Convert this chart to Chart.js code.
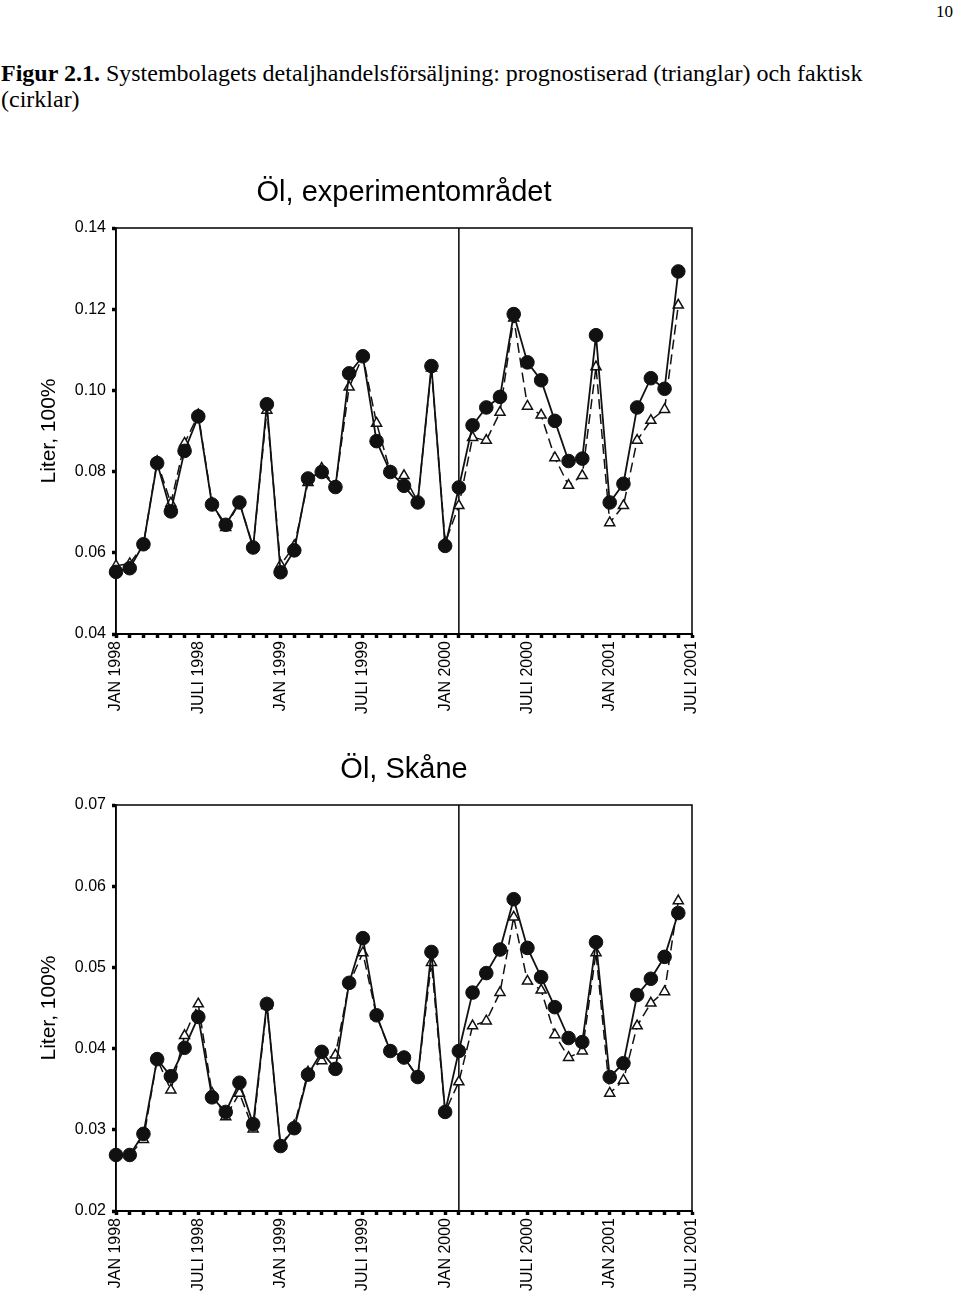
<!DOCTYPE html>
<html>
<head>
<meta charset="utf-8">
<script src="https://cdn.jsdelivr.net/npm/chart.js@4.4.1/dist/chart.umd.min.js"></script>
<style>
  body { margin: 0; background: #fff; }
  #page { position: relative; width: 960px; height: 1293px; overflow: hidden; }
  .pagenr { position: absolute; right: 7px; top: 2px; font: 17px "Liberation Serif", "Times New Roman", serif; }
  .caption { position: absolute; left: 1px; top: 60px; font: 24px/26px "Liberation Serif", "Times New Roman", serif; color: #000; }
  canvas { position: absolute; left: 0; }
</style>
</head>
<body>
<div id="page">
  <div class="pagenr">10</div>
  <div class="caption"><b>Figur 2.1.</b> Systembolagets detaljhandelsförsäljning: prognostiserad (trianglar) och faktisk<br>(cirklar)</div>
  <canvas id="chartExp" width="808" height="556" style="top:160px"></canvas>
  <canvas id="chartSkane" width="808" height="556" style="top:737px"></canvas>
</div>
<script>
// x axis: one slot per month, a label every sixth month
const tickLabels = ['JAN 1998', 'JULI 1998', 'JAN 1999', 'JULI 1999', 'JAN 2000', 'JULI 2000', 'JAN 2001', 'JULI 2001'];
const monthsPerTick = 6;
const forecastStart = 25; // Feb 2000, the vertical divider

// Öl, experimentområdet
const actualExp = [0.0553, 0.0562, 0.0621, 0.0821, 0.0702, 0.0851, 0.0936, 0.0719, 0.0669, 0.0724,
  0.0613, 0.0966, 0.0552, 0.0606, 0.0783, 0.0799, 0.0762, 0.1042, 0.1084, 0.0875,
  0.0799, 0.0765, 0.0724, 0.1060, 0.0617, 0.0761, 0.0914, 0.0958, 0.0984, 0.1188,
  0.1069, 0.1025, 0.0925, 0.0826, 0.0832, 0.1136, 0.0724, 0.0770, 0.0958, 0.1030,
  0.1004, 0.1293];
const forecastExp = [0.0568, 0.0573, 0.0620, 0.0825, 0.0722, 0.0870, 0.0940, 0.0722, 0.0662, 0.0724,
  0.0615, 0.0951, 0.0570, 0.0617, 0.0773, 0.0808, 0.0763, 0.1008, 0.1084, 0.0919,
  0.0800, 0.0790, 0.0726, 0.1055, 0.0625, 0.0716, 0.0884, 0.0877, 0.0946, 0.1178,
  0.0961, 0.0939, 0.0834, 0.0766, 0.0790, 0.1058, 0.0674, 0.0716, 0.0877, 0.0926,
  0.0953, 0.1210];
const yTicksExp = [0.04, 0.06, 0.08, 0.10, 0.12, 0.14];

// Öl, Skåne
const actualSkane = [0.0269, 0.0269, 0.0295, 0.0387, 0.0366, 0.0401, 0.0439, 0.0340, 0.0322, 0.0358,
  0.0307, 0.0455, 0.0280, 0.0302, 0.0368, 0.0396, 0.0375, 0.0481, 0.0536, 0.0441,
  0.0397, 0.0389, 0.0365, 0.0519, 0.0322, 0.0397, 0.0469, 0.0493, 0.0522, 0.0584,
  0.0524, 0.0488, 0.0451, 0.0413, 0.0408, 0.0531, 0.0365, 0.0382, 0.0466, 0.0486,
  0.0513, 0.0567];
const forecastSkane = [0.0269, 0.0269, 0.0288, 0.0387, 0.0349, 0.0416, 0.0455, 0.0345, 0.0316, 0.0345,
  0.0301, 0.0453, 0.0280, 0.0305, 0.0371, 0.0385, 0.0392, 0.0480, 0.0518, 0.0440,
  0.0397, 0.0389, 0.0365, 0.0506, 0.0322, 0.0359, 0.0428, 0.0434, 0.0469, 0.0562,
  0.0483, 0.0472, 0.0417, 0.0389, 0.0397, 0.0518, 0.0345, 0.0361, 0.0428, 0.0456,
  0.0470, 0.0582];
const yTicksSkane = [0.02, 0.03, 0.04, 0.05, 0.06, 0.07];

const categories = [];
for (let i = 0; i <= (tickLabels.length - 1) * monthsPerTick; i++) {
    categories.push(i % monthsPerTick === 0 ? tickLabels[i / monthsPerTick] : '');
}

const sans = 'Arial, "Liberation Sans", sans-serif';

// box round the plot area plus the line where the forecast period starts
const framePlugin = {
    id: 'frame',
    beforeDatasetsDraw(chart, args, opts) {
        const { ctx, chartArea: a, scales: { x } } = chart;
        ctx.save();
        ctx.strokeStyle = '#000';
        ctx.lineWidth = 1.5;
        ctx.strokeRect(a.left, a.top, a.right - a.left, a.bottom - a.top);
        const xp = x.getPixelForValue(opts.divider);
        ctx.beginPath();
        ctx.moveTo(xp, a.top);
        ctx.lineTo(xp, a.bottom);
        ctx.stroke();
        ctx.restore();
    }
};

function makeChart(id, title, actual, forecast, yTicks) {
    const ctx = document.getElementById(id).getContext('2d');
    return new Chart(ctx, {
        type: 'line',
        data: {
            labels: categories,
            datasets: [{
                label: 'faktisk',
                data: actual,
                borderColor: '#111',
                borderWidth: 1.8,
                pointStyle: 'circle',
                pointRadius: 6.8,
                pointBackgroundColor: '#111',
                pointBorderColor: '#111',
                pointBorderWidth: 1,
                tension: 0,
                clip: false
            }, {
                label: 'prognostiserad',
                data: forecast,
                borderColor: '#111',
                borderWidth: 1.5,
                borderDash: [10, 5],
                pointStyle: 'triangle',
                pointRadius: 5.8,
                pointBackgroundColor: '#fff',
                pointBorderColor: '#111',
                pointBorderWidth: 1.5,
                tension: 0,
                clip: false
            }]
        },
        options: {
            responsive: false,
            animation: false,
            layout: { padding: 0 },
            plugins: {
                legend: { display: false },
                tooltip: { enabled: false },
                title: {
                    display: true,
                    text: title,
                    color: '#000',
                    font: { family: sans, size: 29, weight: 'normal' },
                    padding: { top: 15.6, bottom: 17.6 }
                },
                frame: { divider: forecastStart }
            },
            scales: {
                x: {
                    ticks: {
                        autoSkip: false,
                        maxRotation: 90,
                        minRotation: 90,
                        padding: 3,
                        color: '#000',
                        font: { family: sans, size: 16 }
                    },
                    grid: { drawOnChartArea: false, tickLength: 4, tickWidth: 3.5, tickColor: '#000' },
                    border: { display: true, color: '#000', width: 2 },
                    afterFit: s => { s.height = 82; }
                },
                y: {
                    min: yTicks[0],
                    max: yTicks[yTicks.length - 1],
                    ticks: {
                        stepSize: yTicks[1] - yTicks[0],
                        padding: 6,
                        color: '#000',
                        font: { family: sans, size: 16 },
                        callback: v => v.toFixed(2)
                    },
                    grid: { drawOnChartArea: false, tickLength: 4, tickWidth: 3.5, tickColor: '#000' },
                    border: { display: true, color: '#000', width: 1.5 },
                    title: {
                        display: true,
                        text: 'Liter, 100%',
                        color: '#000',
                        font: { family: sans, size: 21 },
                        padding: { top: 36.5, bottom: 0 }
                    },
                    afterFit: s => { s.width = 116; }
                },
                y2: {
                    position: 'right',
                    ticks: { display: false },
                    grid: { display: false },
                    border: { display: false },
                    afterFit: s => { s.width = 116; }
                }
            }
        },
        plugins: [framePlugin]
    });
}

makeChart('chartExp', 'Öl, experimentområdet', actualExp, forecastExp, yTicksExp);
makeChart('chartSkane', 'Öl, Skåne', actualSkane, forecastSkane, yTicksSkane);
</script>
</body>
</html>
